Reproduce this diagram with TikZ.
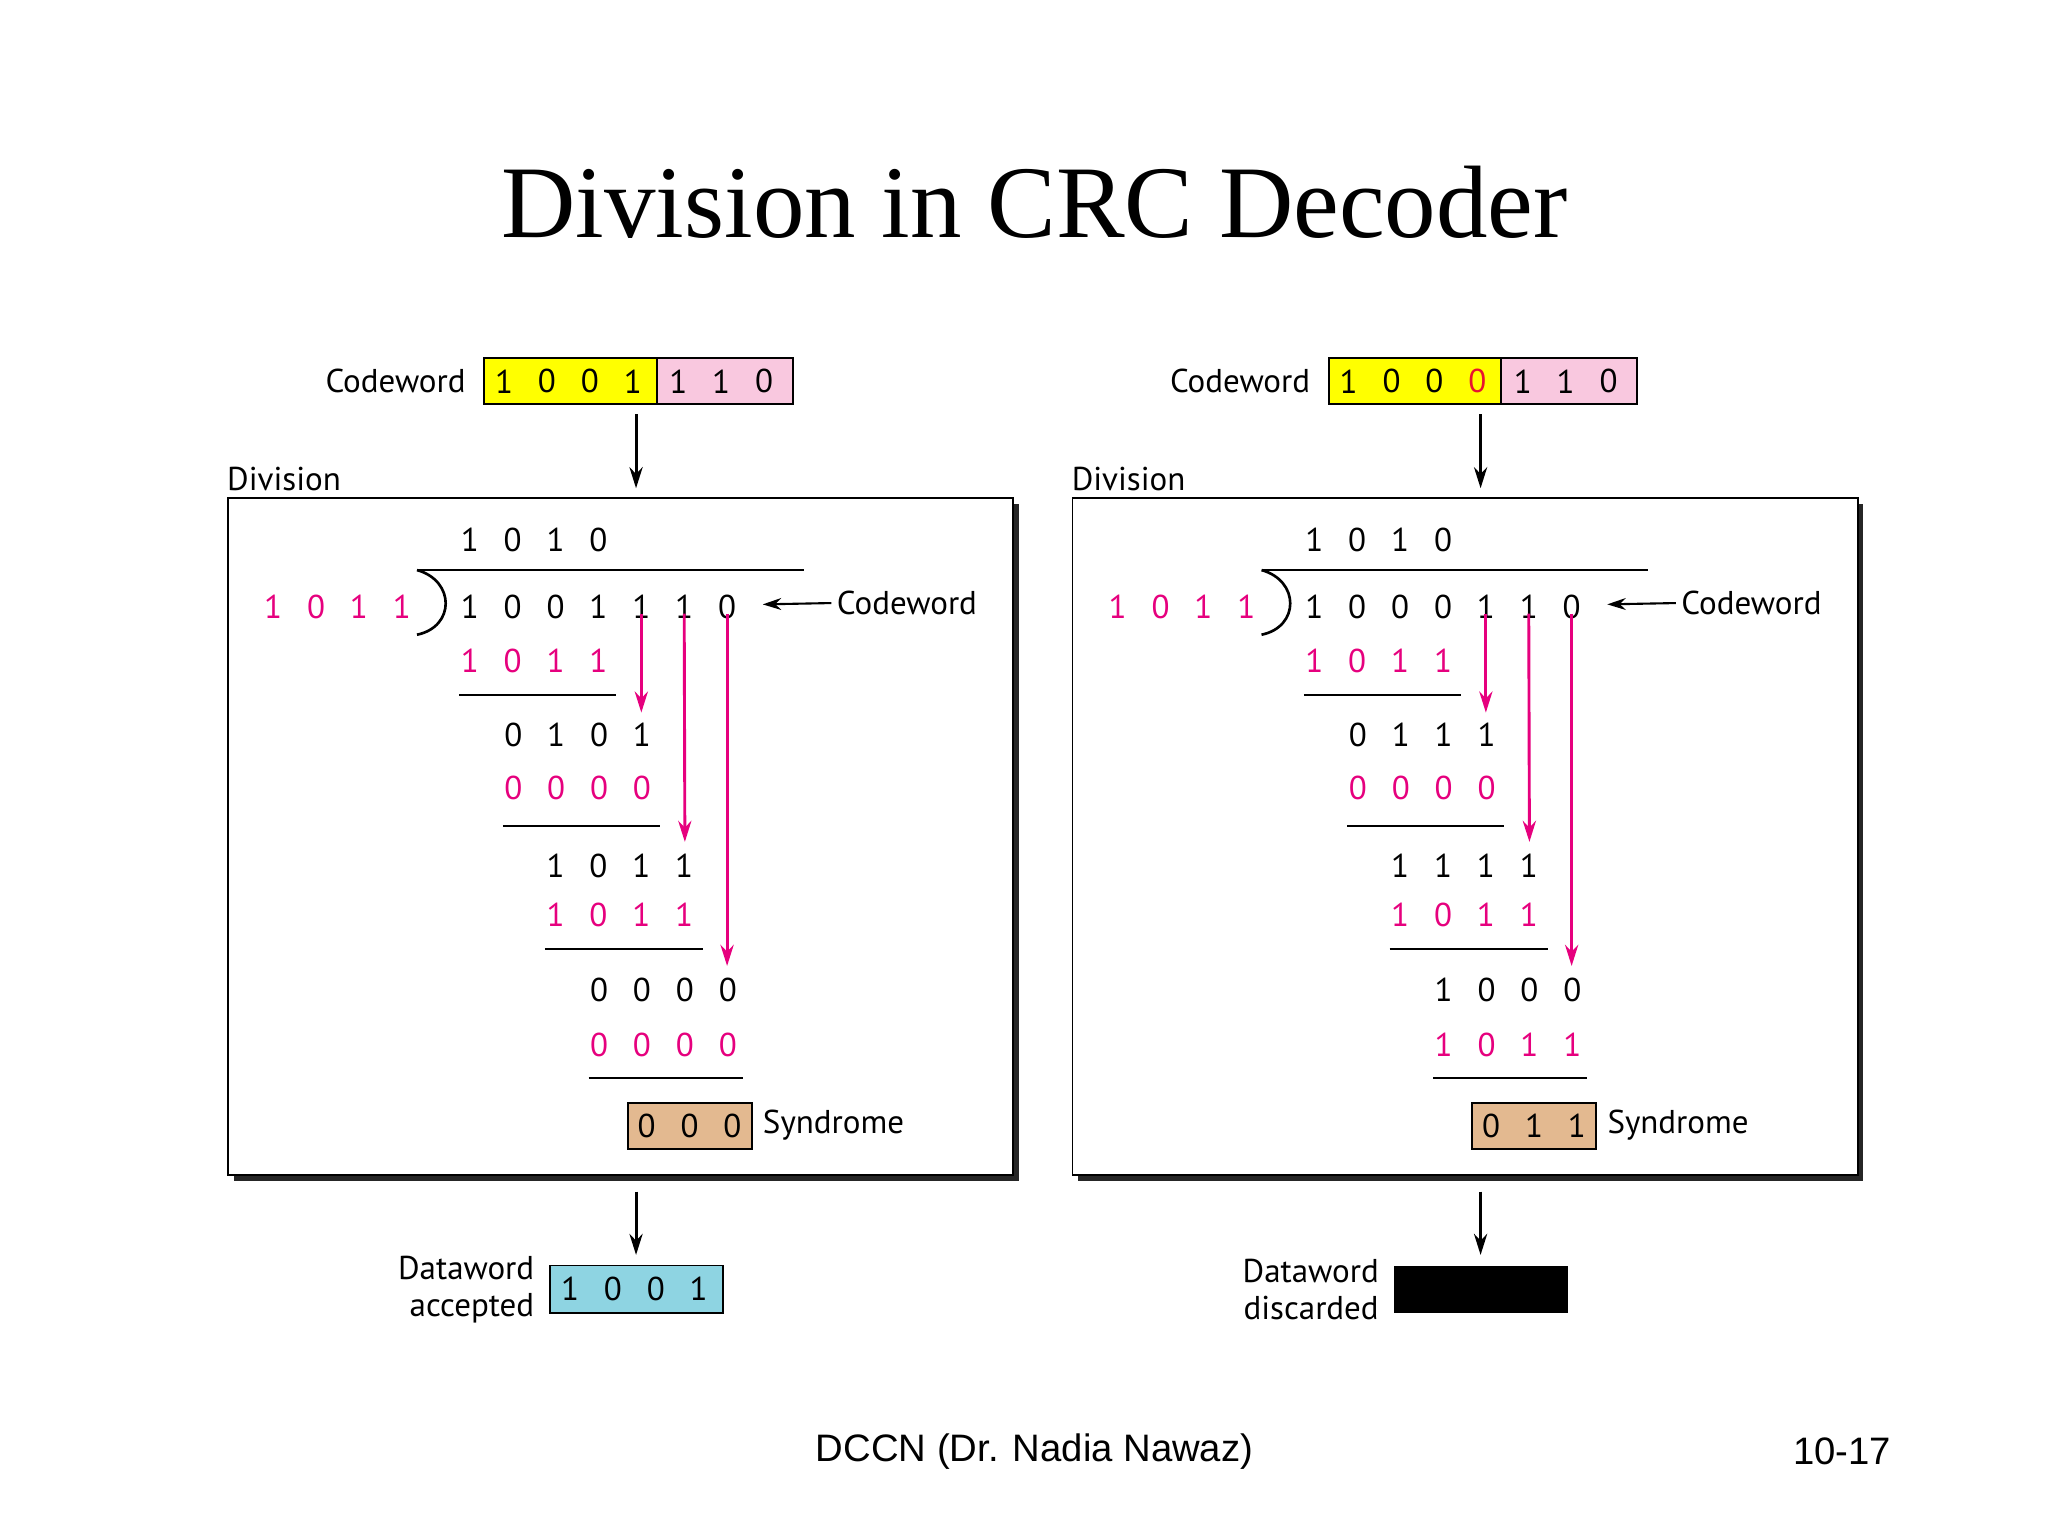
\documentclass[tikz,border=0pt]{standalone}
\usepackage{fontspec}
\setmainfont{PT Sans}
\newfontfamily\titlefont{Liberation Serif}
\newfontfamily\footfont{Liberation Sans}
\usetikzlibrary{arrows.meta}
\definecolor{mag}{HTML}{E6007E}
\definecolor{yel}{HTML}{FFFF00}
\definecolor{pnk}{HTML}{F9C8DF}
\definecolor{tan}{HTML}{E3B990}
\definecolor{cyn}{HTML}{8ED4E2}
\definecolor{errred}{HTML}{E8132F}
\newcommand\drow[5]{% x0, y, list, color, name
  \foreach \d [count=\i from 0] in {#3} {\node[dig,text=#4] (#5\i) at ({#1+32.5*\i},#2) {\d};}}
\tikzset{dig/.style={font=\fontsize{25}{25}\selectfont,inner sep=0pt},
 lbl/.style={font=\fontsize{25}{28}\selectfont,inner sep=0pt},
 bx/.style={draw=black,line width=1.5pt},
 blk/.style={-{Stealth[length=16pt,width=10pt]},line width=2.2pt},
 pk/.style={-{Stealth[length=16pt,width=10pt]},line width=2.2pt,draw=mag},
 rule/.style={line width=1.5pt}}
\newcommand\panel[9]{% #1 xshift, #2 codeword data list, #3 rows...
\begin{scope}[xshift=#1pt]
 \fill[black!85] (177,382) rectangle (772,895);
 \node[bx,fill=white,minimum width=595pt,minimum height=513pt,inner sep=0pt,anchor=north west] (frame) at (172,377) {};
 \node[lbl,anchor=south west] (divlbl) at (172,372) {Division};
 \node[bx,fill=yel,minimum width=131pt,minimum height=35pt,anchor=west,inner sep=0pt] (cwy) at (366,289) {};
 \node[bx,fill=pnk,minimum width=103pt,minimum height=35pt,anchor=west,inner sep=0pt] (cwp) at (497,289) {};
 \node[lbl,anchor=east] (cwl) at (353,289) {Codeword};
 #2
 \drow{514}{289}{1,1,0}{black}{cb}
 \coordinate (a1) at (482,314); \coordinate (a2) at (482,370);
 \draw[blk] (a1) -- (a2);
 \drow{356}{409}{1,0,1,0}{black}{q}
 \draw[rule] (316,432) -- (609,432);
 \draw[line width=2pt] (316,432) .. controls (345,440) and (345,475) .. (316,481);
 \drow{207}{460}{1,0,1,1}{mag}{dv}
 \drow{356}{460}{#3}{black}{dd}
 \node[lbl,anchor=west] (cwl2) at (634,457) {Codeword};
 \draw[-{Stealth[length=14pt,width=9pt]},line width=1.6pt] (cwl2.west) ++(-4,0) coordinate (c1) -- (578,458) coordinate (c2);
 \drow{356}{501}{1,0,1,1}{mag}{r1}
 \draw[rule] (348,527) -- (467,527);
 \drow{389}{557}{#4}{black}{r2}
 \drow{389}{597}{0,0,0,0}{mag}{r3}
 \draw[rule] (381,626) -- (500,626);
 \drow{421}{656}{#5}{black}{r4}
 \drow{421}{693}{1,0,1,1}{mag}{r5}
 \draw[rule] (413,719) -- (533,719);
 \drow{454}{750}{#6}{black}{r6}
 \drow{454}{792}{#7}{mag}{r7}
 \draw[rule] (446,817) -- (563,817);
 \draw[pk] (dd4.south) ++(0,-4) -- (486,540);
 \draw[pk] (dd5.south) ++(0,-4) -- (519,638);
 \draw[pk] (dd6.south) ++(0,-4) -- (551,732);
 \node[bx,fill=tan,minimum width=94pt,minimum height=35pt,anchor=west,inner sep=0pt] (syn) at (475,853) {};
 \drow{490}{853}{#8}{black}{s}
 \node[lbl,anchor=west] (synl) at (578,853) {Syndrome};
 \coordinate (b1) at (482,903); \coordinate (b2) at (482,951);
 \draw[blk] (b1) -- (b2);
 #9
\end{scope}}
\begin{document}
\begin{tikzpicture}[x=1pt,y=-1pt]
\useasboundingbox[fill=white] (0,0) rectangle (1552,1164);
\node[font=\titlefont\fontsize{78}{80}\selectfont] (title) at (784,153) {Division in CRC Decoder};
\panel{0}{\drow{382}{289}{1,0,0,1}{black}{cw}}{1,0,0,1,1,1,0}{0,1,0,1}{1,0,1,1}{0,0,0,0}{0,0,0,0}{0,0,0}{%
 \node[bx,fill=cyn,minimum width=131pt,minimum height=36pt,anchor=west,inner sep=0pt] (dw) at (416,977) {};
 \drow{432}{977}{1,0,0,1}{black}{dwd}
 \node[lbl,align=right,anchor=east] (dwl) at (405,977) {Dataword\\accepted};}
\panel{640}{\drow{382}{289}{1,0,0}{black}{cw}\node[dig,text=errred] (cwe) at (479.5,289) {0};}{1,0,0,0,1,1,0}{0,1,1,1}{1,1,1,1}{1,0,0,0}{1,0,1,1}{0,1,1}{%
 \node[fill=black,minimum width=132pt,minimum height=36pt,anchor=west,inner sep=0pt] (dw) at (416,977) {};
 \node[lbl,align=right,anchor=east] (dwl) at (405,977) {Dataword\\discarded};}
\node[font=\footfont\fontsize{29}{30}\selectfont] (foot) at (784,1100) {DCCN (Dr. Nadia Nawaz)};
\node[font=\footfont\fontsize{29}{30}\selectfont] (pg) at (1396,1100) {10-17};
\end{tikzpicture}
\end{document}
